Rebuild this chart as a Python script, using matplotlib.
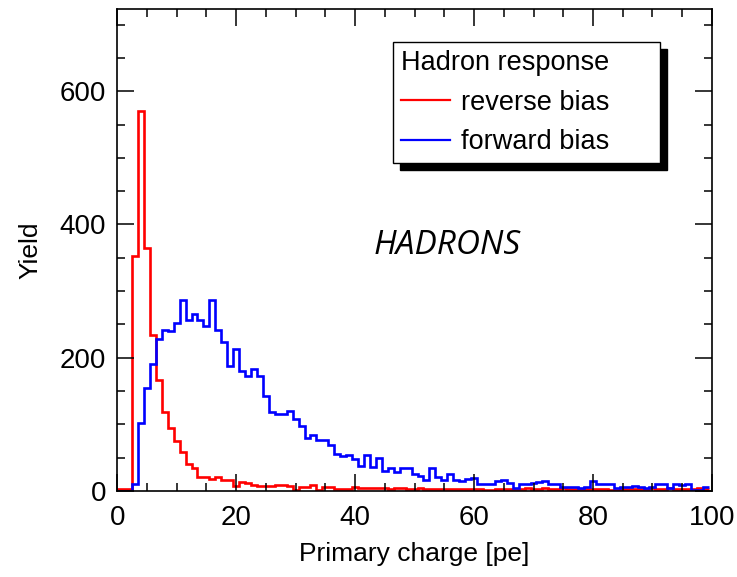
import matplotlib.pyplot as plt
import numpy as np
from matplotlib.ticker import MultipleLocator

plt.rcParams['font.family'] = ['Liberation Sans', 'DejaVu Sans']

# bin edges: unit bins centred on integers
edges = np.arange(0, 101) - 0.5

reverse_bias = [3, 3, 3, 353, 570, 364, 234, 166, 118, 95,
                75, 59, 41, 34, 21, 21, 18, 21, 16, 16,
                8, 13, 12, 9, 7, 7, 7, 9, 9, 7,
                2, 6, 6, 9, 2, 6, 6, 3, 3, 3,
                6, 4, 4, 4, 4, 4, 3, 5, 5, 3,
                3, 5, 3, 3, 3, 3, 3, 3, 3, 3,
                3, 3, 1, 1, 3, 3, 3, 3, 3, 5,
                3, 3, 5, 3, 3, 4, 3, 3, 3, 3,
                3, 3, 3, 1, 1, 3, 3, 3, 3, 3,
                4, 3, 3, 5, 3, 3, 3, 3, 4, 3]

forward_bias = [0, 0, 0, 10, 102, 154, 190, 228, 241, 240,
                252, 286, 257, 266, 257, 247, 286, 242, 223, 188,
                213, 180, 172, 183, 172, 142, 119, 115, 115, 120,
                108, 98, 80, 84, 76, 76, 69, 56, 52, 54,
                48, 38, 54, 36, 49, 30, 34, 29, 35, 35,
                25, 22, 17, 34, 21, 17, 25, 17, 15, 18,
                20, 10, 10, 10, 15, 17, 12, 5, 11, 11,
                12, 13, 15, 11, 11, 6, 6, 6, 4, 6,
                15, 11, 11, 11, 4, 6, 6, 7, 6, 4,
                6, 11, 11, 5, 10, 9, 11, 2, 2, 6]

fig = plt.figure(figsize=(7.37, 5.77), dpi=100)
ax = fig.add_axes([0.159, 0.149, 0.807, 0.835])

ax.stairs(reverse_bias, edges, color='#ff0000', linewidth=1.9, label='reverse bias', baseline=None)
ax.stairs(forward_bias, edges, color='#0000ff', linewidth=1.9, label='forward bias', baseline=None)

ax.set_xlim(0, 100)
ax.set_ylim(0, 723)
ax.xaxis.set_major_locator(MultipleLocator(20))
ax.xaxis.set_minor_locator(MultipleLocator(5))
ax.yaxis.set_major_locator(MultipleLocator(200))
ax.yaxis.set_minor_locator(MultipleLocator(50))
ax.tick_params(which='both', direction='in', top=True, right=True, width=1.1, labelsize=20)
ax.tick_params(which='major', length=12)
ax.tick_params(which='minor', length=6)
ax.tick_params(axis='x', pad=10)
ax.tick_params(axis='y', pad=8)
for s in ax.spines.values():
    s.set_linewidth(1.2)

ax.set_xlabel('Primary charge [pe]', fontsize=19, labelpad=8)
ax.set_ylabel('Yield', fontsize=19, labelpad=12)

ax.text(0.555, 0.51, 'HADRONS', transform=ax.transAxes, fontsize=24, style='italic',
        family=['Open Sans', 'DejaVu Sans'], ha='center', va='center')

leg = ax.legend(title='Hadron response', loc='upper left',
                bbox_to_anchor=(0.464, 0.683, 0.449, 0.249), mode='expand',
                borderaxespad=0, fontsize=19.5, title_fontsize=19.5, fancybox=False,
                edgecolor='black', framealpha=1, handlelength=1.8, handletextpad=0.4,
                labelspacing=0.5, borderpad=0.3,
                shadow={'color': 'black', 'alpha': 1, 'ox': 5, 'oy': -5})
leg._legend_box.align = 'left'
leg.get_frame().set_linewidth(1.0)
for line in leg.get_lines():
    line.set_linewidth(1.6)

fig.savefig('out.png', dpi=100)
